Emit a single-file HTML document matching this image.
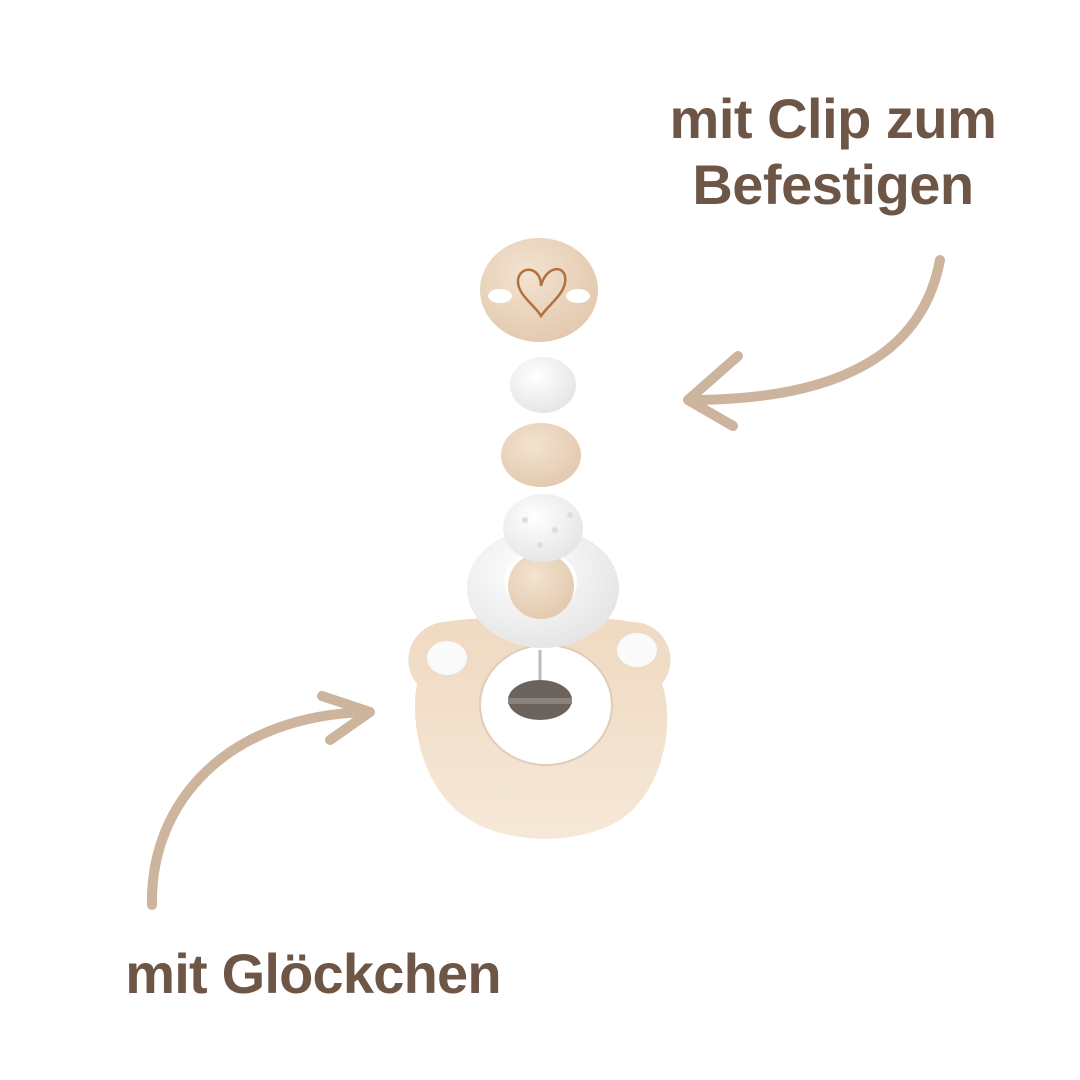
<!DOCTYPE html>
<html><head><meta charset="utf-8"><style>
html,body{margin:0;padding:0;background:#fff;}
svg{display:block}
</style></head><body>
<svg width="1080" height="1080" viewBox="0 0 1080 1080" xmlns="http://www.w3.org/2000/svg">
<defs>
<radialGradient id="wood" cx="40%" cy="35%" r="70%"><stop offset="0" stop-color="#f3e3d0"/><stop offset="1" stop-color="#e2c8ad"/></radialGradient>
<radialGradient id="white" cx="40%" cy="35%" r="70%"><stop offset="0" stop-color="#ffffff"/><stop offset="1" stop-color="#e4e4e4"/></radialGradient>
<linearGradient id="bear" x1="0" y1="0" x2="0" y2="1"><stop offset="0" stop-color="#efd9c1"/><stop offset="1" stop-color="#f6e8d8"/></linearGradient>
</defs>
<g font-family="Liberation Sans, sans-serif" font-weight="bold" fill="#6e5647" text-anchor="middle">
<text x="833" y="138" font-size="56" letter-spacing="-0.5">mit Clip zum</text>
<text x="833" y="204" font-size="56" letter-spacing="-0.5">Befestigen</text>
<text x="313" y="993" font-size="56" letter-spacing="-0.8">mit Glöckchen</text>
</g>
<g fill="none" stroke="#cdb49c" stroke-width="10" stroke-linecap="round" stroke-linejoin="round">
<path d="M940 260 C925 340 860 400 690 400"/>
<path d="M738 356 L688 400 L733 426"/>
<path d="M152 905 C150 800 230 715 368 712"/>
<path d="M322 696 L370 712 L330 740"/>
</g>
<path d="M445 622 a38 38 0 0 0 -28 62 C410 720 420 790 470 820 C510 845 580 845 620 820 C665 790 675 720 662 684 a38 38 0 0 0 -30 -62 C600 615 480 615 445 622 Z" fill="url(#bear)"/>
<ellipse cx="447" cy="658" rx="20" ry="17" fill="#fafafa"/>
<ellipse cx="637" cy="650" rx="20" ry="17" fill="#fafafa"/>
<ellipse cx="546" cy="705" rx="66" ry="60" fill="#fff" stroke="#e0cdb8" stroke-width="2"/>
<line x1="540" y1="650" x2="540" y2="680" stroke="#bbb" stroke-width="3"/>
<ellipse cx="540" cy="700" rx="32" ry="20" fill="#6b625c"/>
<rect x="508" y="698" width="64" height="6" fill="#8a827c"/>
<ellipse cx="543" cy="588" rx="76" ry="60" fill="url(#white)"/>
<ellipse cx="541" cy="582" rx="36" ry="31" fill="#fff"/>
<circle cx="541" cy="586" r="33" fill="url(#wood)"/>
<ellipse cx="543" cy="528" rx="40" ry="34" fill="url(#white)"/>
<g fill="#ddd"><circle cx="525" cy="520" r="3"/><circle cx="555" cy="530" r="3"/><circle cx="540" cy="545" r="3"/><circle cx="570" cy="515" r="3"/></g>
<ellipse cx="541" cy="455" rx="40" ry="32" fill="url(#wood)"/>
<ellipse cx="543" cy="385" rx="33" ry="28" fill="url(#white)"/>
<ellipse cx="539" cy="290" rx="59" ry="52" fill="url(#wood)"/>
<ellipse cx="500" cy="296" rx="12" ry="7" fill="#fff"/>
<ellipse cx="578" cy="296" rx="12" ry="7" fill="#fff"/>
<path d="M541 286 C541 266 520 265 518 280 C517 295 535 305 541 316 C550 303 568 292 565 276 C562 264 545 268 541 286" fill="none" stroke="#b3713f" stroke-width="2.5"/>
</svg>
</body></html>
